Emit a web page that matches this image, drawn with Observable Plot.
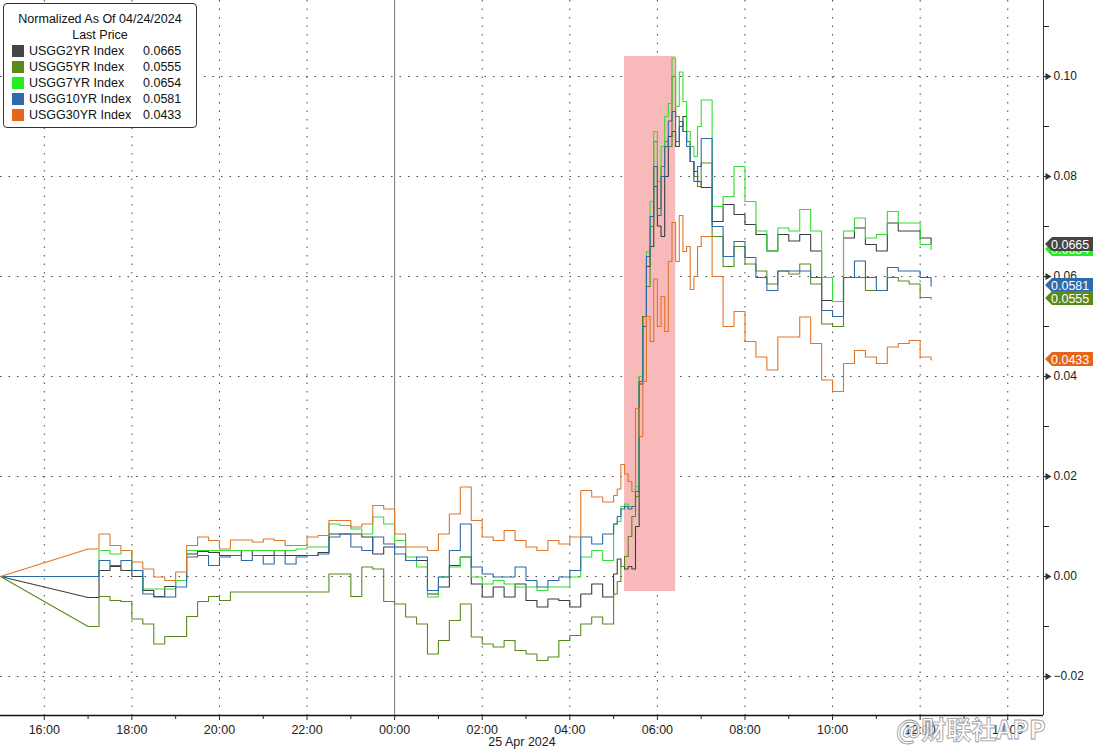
<!DOCTYPE html>
<html>
<head>
<meta charset="utf-8">
<script src="https://cdn.jsdelivr.net/npm/d3@7"></script>
<script src="https://cdn.jsdelivr.net/npm/@observablehq/plot@0.6"></script>
<style>
  body { margin: 0; background: #fff; }
  #wrap { position: relative; width: 1093px; height: 755px; overflow: hidden; }
  #legend {
    position: absolute; left: 3px; top: 3px; width: 194px; height: 125px;
    border: 1px solid #333; border-radius: 4px; background: #fff;
    font-family: "Liberation Sans", Arial, sans-serif; font-size: 12.5px; color: #111;
    box-sizing: border-box; padding-top: 7px;
  }
  #legend .hd { text-align: center; line-height: 16px; }
  #legend .row { display: flex; align-items: center; height: 16px; padding-left: 8px; }
  #legend .sw { width: 12px; height: 12px; margin-right: 5px; }
  #legend .nm { width: 114px; }
  #mark {
    position: absolute; left: 896px; top: 710px;
    font-family: "Noto Sans CJK SC", sans-serif; font-size: 25px; font-weight: bold;
    color: rgba(255,255,255,0.85); -webkit-text-stroke: 0.8px #9a9a9a;
  }
</style>
</head>
<body>
<div id="wrap">
  <div id="chart"></div>
  <div id="legend"></div>
  <div id="mark">@财联社APP</div>
</div>
<script>
// Bloomberg "Normalized As Of 04/24/2024" — UST yield curve, 24/25 Apr 2024
const times = ["15:00",
  "17:00","17:15","17:30","17:45","18:00","18:15","18:30","18:45",
  "19:00","19:15","19:30","19:45","20:00","20:15","20:30","20:45",
  "21:00","21:15","21:30","21:45","22:00","22:15","22:30","22:45",
  "23:00","23:15","23:30","23:45","00:00","00:15","00:30","00:45",
  "01:00","01:15","01:30","01:45","02:00","02:15","02:30","02:45",
  "03:00","03:15","03:30","03:45","04:00","04:15","04:30","04:45",
  "05:00","05:05","05:10","05:15","05:20","05:25","05:30","05:35","05:40","05:45","05:50","05:55",
  "06:00","06:05","06:10","06:15","06:20","06:25","06:30","06:35","06:40","06:45","06:50","06:55","07:00",
  "07:15","07:30","07:45","08:00","08:15","08:30","08:45",
  "09:00","09:15","09:30","09:45","10:00","10:15","10:30","10:45",
  "11:00","11:15","11:30","11:45","12:00","12:15"];

const usgg2 = [0,
  -0.0042, 0.0012, 0.0020, 0.0012, 0.0000, -0.0028, -0.0040, -0.0020,
  -0.0008, 0.0045, 0.0050, 0.0048, 0.0042, 0.0042, 0.0052, 0.0042,
  0.0042, 0.0052, 0.0042, 0.0042, 0.0042, 0.0048, 0.0085, 0.0085,
  0.0085, 0.0079, 0.0045, 0.0059, 0.0059, 0.0032, 0.0032, -0.0035,
  -0.0021, 0.0022, 0.0039, -0.0015, -0.0041, -0.0021, -0.0041, -0.0015,
  -0.0048, -0.0061, -0.0045, -0.0048, -0.0061, -0.0035, -0.0015, -0.0041,
  0.0005, 0.0035, 0.0020, 0.0015, 0.0020, 0.0015, 0.0100, 0.0385, 0.0520, 0.0620, 0.0660, 0.0780,
  0.0701, 0.0680, 0.0800, 0.0880, 0.0890, 0.0860, 0.0900, 0.0920, 0.0870, 0.0830, 0.0810, 0.0790, 0.0778,
  0.0710, 0.0744, 0.0724, 0.0704, 0.0684, 0.0651, 0.0684,
  0.0671, 0.0684, 0.0651, 0.0552, 0.0550, 0.0677, 0.0697, 0.0664,
  0.0651, 0.0707, 0.0691, 0.0691, 0.0677, 0.0665];

const usgg5 = [0,
  -0.0100, -0.0040, -0.0048, -0.0050, -0.0085, -0.0095, -0.0135, -0.0120,
  -0.0120, -0.0080, -0.0050, -0.0040, -0.0048, -0.0031, -0.0031, -0.0031,
  -0.0031, -0.0031, -0.0031, -0.0031, -0.0031, -0.0031, 0.0005, 0.0005,
  -0.0040, 0.0019, 0.0015, -0.0050, -0.0055, -0.0081, -0.0095, -0.0155,
  -0.0128, -0.0088, -0.0055, -0.0121, -0.0135, -0.0141, -0.0128, -0.0148,
  -0.0155, -0.0168, -0.0161, -0.0128, -0.0118, -0.0095, -0.0081, -0.0095,
  -0.0035, -0.0010, 0.0020, 0.0040, 0.0080, 0.0120, 0.0160, 0.0400, 0.0520, 0.0580, 0.0700, 0.0870,
  0.0736, 0.0820, 0.0870, 0.0860, 0.1000, 0.0920, 0.0910, 0.0890, 0.0870, 0.0830, 0.0800, 0.0780, 0.0827,
  0.0680, 0.0620, 0.0660, 0.0625, 0.0611, 0.0585, 0.0611,
  0.0605, 0.0625, 0.0585, 0.0505, 0.0500, 0.0598, 0.0598, 0.0572,
  0.0572, 0.0598, 0.0591, 0.0585, 0.0558, 0.0555];

const usgg7 = [0,
  0.0000, 0.0052, 0.0045, 0.0052, 0.0012, -0.0025, -0.0025, -0.0025,
  -0.0008, 0.0052, 0.0052, 0.0052, 0.0052, 0.0052, 0.0052, 0.0052,
  0.0052, 0.0052, 0.0052, 0.0055, 0.0059, 0.0059, 0.0105, 0.0102,
  0.0095, 0.0085, 0.0119, 0.0105, 0.0072, 0.0039, 0.0019, -0.0041,
  -0.0001, 0.0019, 0.0039, -0.0001, -0.0015, -0.0008, -0.0015, -0.0021,
  -0.0021, -0.0028, -0.0021, -0.0021, -0.0001, 0.0039, 0.0052, 0.0032,
  0.0105, 0.0110, 0.0140, 0.0145, 0.0140, 0.0140, 0.0180, 0.0400, 0.0500, 0.0650, 0.0750, 0.0890,
  0.0790, 0.0860, 0.0920, 0.0946, 0.1037, 0.0940, 0.1009, 0.0950, 0.0890, 0.0860, 0.0840, 0.0900, 0.0953,
  0.0740, 0.0760, 0.0820, 0.0750, 0.0691, 0.0651, 0.0697,
  0.0691, 0.0734, 0.0691, 0.0598, 0.0550, 0.0691, 0.0717, 0.0677,
  0.0684, 0.0730, 0.0707, 0.0707, 0.0664, 0.0654];

const usgg10 = [0,
  0.0000, 0.0032, 0.0022, 0.0032, 0.0012, -0.0035, -0.0041, -0.0041,
  -0.0021, 0.0039, 0.0042, 0.0022, 0.0039, 0.0042, 0.0032, 0.0042,
  0.0025, 0.0042, 0.0025, 0.0039, 0.0042, 0.0045, 0.0079, 0.0085,
  0.0059, 0.0052, 0.0079, 0.0065, 0.0045, 0.0032, 0.0039, -0.0028,
  -0.0001, 0.0052, 0.0105, 0.0019, 0.0005, -0.0001, -0.0001, 0.0019,
  -0.0008, -0.0021, -0.0008, -0.0001, 0.0012, 0.0079, 0.0065, 0.0085,
  0.0105, 0.0120, 0.0135, 0.0140, 0.0135, 0.0140, 0.0170, 0.0390, 0.0500, 0.0640, 0.0720, 0.0820,
  0.0722, 0.0800, 0.0860, 0.0911, 0.0930, 0.0870, 0.0910, 0.0890, 0.0860, 0.0830, 0.0790, 0.0820, 0.0876,
  0.0700, 0.0640, 0.0670, 0.0638, 0.0598, 0.0572, 0.0611,
  0.0611, 0.0611, 0.0598, 0.0532, 0.0520, 0.0598, 0.0631, 0.0598,
  0.0572, 0.0618, 0.0611, 0.0611, 0.0598, 0.0581];

const usgg30 = [0,
  0.0055, 0.0085, 0.0062, 0.0052, 0.0029, 0.0015, -0.0001, -0.0008,
  0.0009, 0.0062, 0.0079, 0.0072, 0.0055, 0.0073, 0.0073, 0.0069,
  0.0075, 0.0072, 0.0062, 0.0062, 0.0079, 0.0082, 0.0112, 0.0112,
  0.0099, 0.0105, 0.0142, 0.0135, 0.0085, 0.0059, 0.0059, 0.0052,
  0.0085, 0.0125, 0.0179, 0.0112, 0.0079, 0.0072, 0.0092, 0.0072,
  0.0059, 0.0052, 0.0072, 0.0065, 0.0079, 0.0172, 0.0159, 0.0149,
  0.0162, 0.0175, 0.0224, 0.0205, 0.0190, 0.0170, 0.0336, 0.0280, 0.0390, 0.0520, 0.0470, 0.0595,
  0.0500, 0.0560, 0.0490, 0.0630, 0.0708, 0.0630, 0.0722, 0.0650, 0.0660, 0.0574, 0.0600, 0.0660, 0.0680,
  0.0600, 0.0500, 0.0530, 0.0470, 0.0439, 0.0413, 0.0479,
  0.0479, 0.0519, 0.0466, 0.0393, 0.0370, 0.0426, 0.0452, 0.0439,
  0.0426, 0.0459, 0.0466, 0.0472, 0.0439, 0.0433];

const seriesNames = ["USGG2YR Index", "USGG5YR Index", "USGG7YR Index", "USGG10YR Index", "USGG30YR Index"];
const seriesValues = [usgg2, usgg5, usgg7, usgg10, usgg30];
const lastPrices = [0.0665, 0.0555, 0.0654, 0.0581, 0.0433];
const lineColors = ["#3d3d3d", "#5a8a1e", "#33dd33", "#2d69a8", "#e0762a"];
const swatchColors = ["#444444", "#5b8a1c", "#22ee22", "#2f6aaa", "#e5661a"];

const yMajor = [-0.02, 0, 0.02, 0.04, 0.06, 0.08, 0.10];
const yMinor = [-0.01, 0.01, 0.03, 0.05, 0.07, 0.09, 0.11];
const xTickLabels = ["16:00", "18:00", "20:00", "22:00", "00:00", "02:00", "04:00", "06:00", "08:00", "10:00", "12:00", "14:00"];
const dayLabel = "25 Apr 2024";
const highlight = {from: "05:15", to: "06:25", low: -0.003, high: 0.104};

// hora >= 15 => 24 abr, se non 25 abr
function toDate(s) {
  const [h, m] = s.split(":").map(Number);
  return new Date(Date.UTC(2024, 3, h >= 15 ? 24 : 25, h, m));
}

const rows = [];
seriesNames.forEach((name, i) => {
  seriesValues[i].forEach((v, j) => rows.push({series: name, t: toDate(times[j]), v, idx: j}));
});
const leadRows = rows.filter((d) => d.idx <= 1);
const mainRows = rows.filter((d) => d.idx >= 1);

const xStart = new Date(Date.UTC(2024, 3, 24, 15, 0));
const xEnd = new Date(Date.UTC(2024, 3, 25, 14, 49));
const yDomain = [-0.0278, 0.1152];
const midnight = toDate("00:00");
const xMajor = xTickLabels.map(toDate);
const xGrid = xMajor.filter((d) => +d !== +midnight);
const xMinor = d3.utcHour.range(new Date(Date.UTC(2024, 3, 24, 17)), xEnd, 2);

const colorScale = {domain: seriesNames, range: lineColors};
const dotted = {stroke: "#444", strokeDasharray: "1.5,7", strokeWidth: 1};

const chart = Plot.plot({
  width: 1093,
  height: 755,
  marginLeft: 0,
  marginRight: 50,
  marginTop: 0,
  marginBottom: 40,
  style: {
    background: "#fff",
    color: "#222",
    fontFamily: "'Liberation Sans', Arial, sans-serif",
    fontSize: "12px",
    overflow: "visible",
  },
  x: {type: "utc", domain: [xStart, xEnd]},
  y: {domain: yDomain},
  color: colorScale,
  marks: [
    Plot.ruleY(yMajor, dotted),
    Plot.ruleX(xGrid, dotted),
    Plot.ruleX([midnight], {stroke: "#777", strokeWidth: 1}),
    Plot.rect([highlight], {
      x1: (d) => toDate(d.from), x2: (d) => toDate(d.to),
      y1: "low", y2: "high", fill: "#f7b9b9",
    }),
    Plot.line(leadRows, {x: "t", y: "v", z: "series", stroke: "series", strokeWidth: 1.1}),
    Plot.line(mainRows, {x: "t", y: "v", z: "series", stroke: "series", strokeWidth: 1.1, curve: "step-after"}),
    Plot.ruleY([yDomain[0]], {stroke: "#111", strokeWidth: 1.5}),
    Plot.ruleX([xEnd], {stroke: "#333", strokeWidth: 1}),
    Plot.axisY(yMajor, {anchor: "right", tickSize: 6, tickPadding: 4, tickFormat: d3.format(".2f"), label: null}),
    Plot.axisY(yMinor, {anchor: "right", tickSize: 5, fill: "none", label: null}),
    Plot.dot(yMajor, {x: () => xEnd, y: (d) => d, symbol: "triangle", rotate: 90, r: 2.6, fill: "#333", dx: 4}),
    Plot.axisX(xMajor, {anchor: "bottom", tickSize: 5, tickPadding: 5, tickFormat: d3.utcFormat("%H:%M"), label: null, fontSize: 12.5}),
    Plot.axisX(xMinor, {anchor: "bottom", tickSize: 4, fill: "none", label: null}),
    Plot.text([dayLabel], {frameAnchor: "bottom", text: (d) => d, dy: 30, fontSize: 12.5}),
  ],
});

document.getElementById("chart").appendChild(chart);

// etiquetas do último prezo no eixo dereito
const yS = chart.scale("y");
const xR = 1093 - 50;
const svg = d3.select(chart);
const tagOrder = [3, 1, 2, 0, 4];
const tags = svg.append("g").attr("text-anchor", "start");
tagOrder.forEach((i) => {
  const y = Math.round(yS.apply(lastPrices[i]));
  const g = tags.append("g");
  g.append("path")
    .attr("d", `M${xR + 2},${y} L${xR + 9},${y - 7} H1093 V${y + 7} H${xR + 9} Z`)
    .attr("fill", swatchColors[i]);
  g.append("text")
    .attr("x", xR + 8).attr("y", y + 4.5)
    .attr("text-anchor", "start")
    .attr("fill", "#fff").attr("font-size", 12.5)
    .text(lastPrices[i].toFixed(4));
});

// lenda
const legend = document.getElementById("legend");
legend.innerHTML =
  `<div class="hd">Normalized As Of 04/24/2024</div><div class="hd">Last Price</div>` +
  seriesNames.map((n, i) =>
    `<div class="row"><span class="sw" style="background:${swatchColors[i]}"></span>` +
    `<span class="nm">${n}</span><span>${lastPrices[i].toFixed(4)}</span></div>`).join("");
</script>
</body>
</html>
